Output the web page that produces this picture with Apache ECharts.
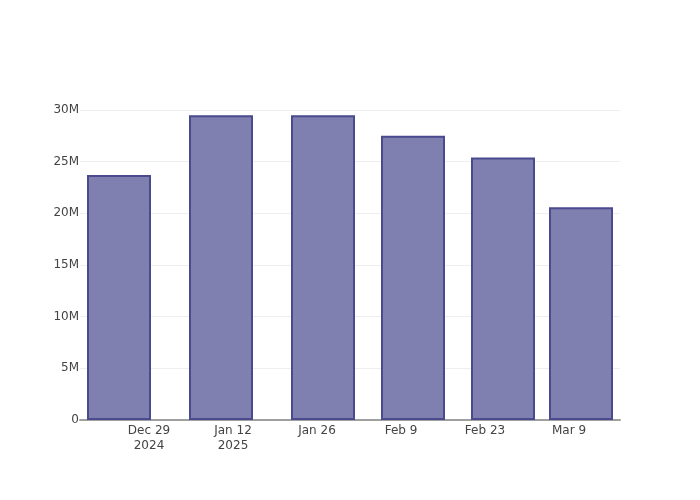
<!DOCTYPE html>
<html>
<head>
<meta charset="utf-8">
<script src="https://cdn.jsdelivr.net/npm/echarts@6/dist/echarts.min.js"></script>
<style>
  html, body { margin: 0; padding: 0; background: #fff; }
  #chart { width: 700px; height: 500px; }
</style>
</head>
<body>
<div id="chart"></div>
<script>
    var DAY = 86400000;
    // bar dates and values
    var dates = ['2024-12-24', '2025-01-10', '2025-01-27', '2025-02-11', '2025-02-26', '2025-03-11'];
    var values = [23.7e6, 29.5e6, 29.5e6, 27.5e6, 25.4e6, 20.6e6];
    // x tick positions and labels
    var tickDates = ['2024-12-29', '2025-01-12', '2025-01-26', '2025-02-09', '2025-02-23', '2025-03-09'];
    var tickLabels = ['Dec 29\n2024', 'Jan 12\n2025', 'Jan 26', 'Feb 9', 'Feb 23', 'Mar 9'];

    function ts(s) { return new Date(s + 'T00:00:00Z').getTime(); }

    var tickValues = tickDates.map(ts);
    var xMin = tickValues[0] - 11.5 * DAY;
    var xMax = tickValues[5] + 8.5 * DAY;

    var myChart = echarts.init(document.getElementById('chart'));

    var option = {
        animation: false,
        textStyle: { fontFamily: 'DejaVu Sans' },
        grid: { left: 80, right: 80, top: 110, bottom: 80, containLabel: false },
        xAxis: {
            type: 'value',
            min: xMin,
            max: xMax,
            axisLine: { show: true, onZero: false, lineStyle: { color: '#a0a0a0', width: 2 } },
            axisTick: { show: false },
            splitLine: { show: false },
            axisLabel: {
                customValues: tickValues,
                color: '#444',
                fontSize: 12,
                lineHeight: 15,
                margin: 3,
                formatter: function (v) {
                    var i = tickValues.indexOf(v);
                    return i >= 0 ? tickLabels[i] : '';
                }
            }
        },
        yAxis: {
            type: 'value',
            min: 0,
            max: 30e6,
            interval: 5e6,
            axisLine: { show: false },
            axisTick: { show: false },
            splitLine: { lineStyle: { color: '#eeeeee', width: 1 } },
            axisLabel: {
                color: '#444',
                fontSize: 12,
                margin: 1,
                formatter: function (v) { return v === 0 ? '0' : (v / 1e6) + 'M'; }
            }
        },
        series: [{
            type: 'bar',
            barWidth: 64,
            data: dates.map(function (d, i) { return [ts(d), values[i]]; }),
            itemStyle: {
                color: 'rgba(127,127,176,1)',
                borderColor: '#4a4a8e',
                borderWidth: 2
            }
        }]
    };

    myChart.setOption(option);
</script>
</body>
</html>
